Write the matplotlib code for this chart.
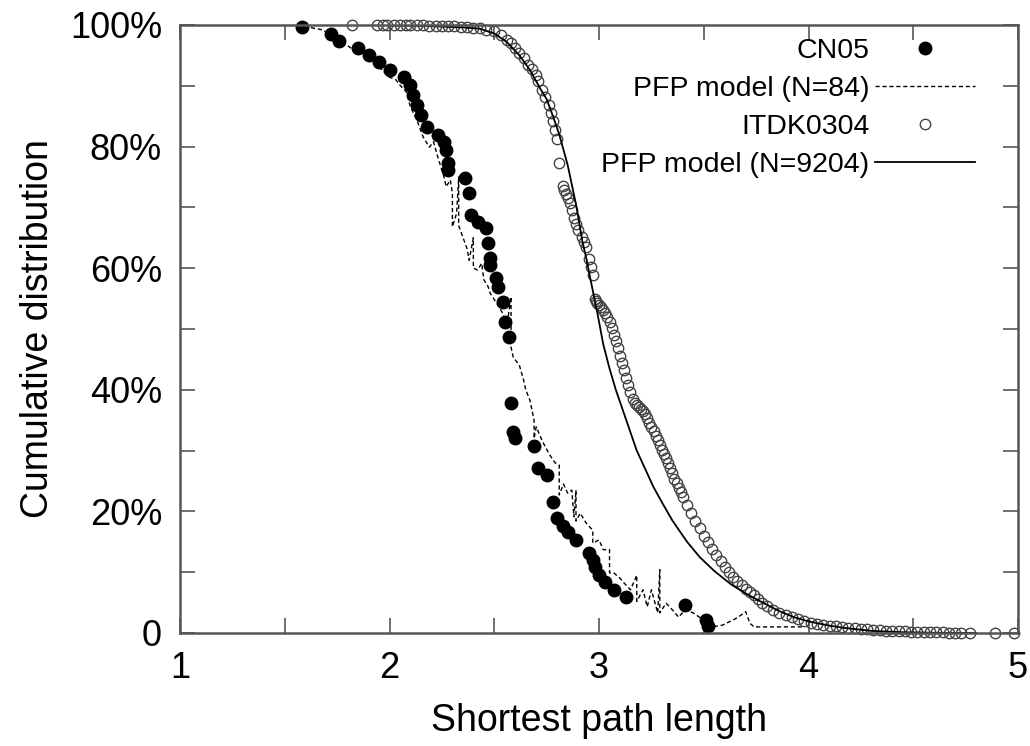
import matplotlib.pyplot as plt
from matplotlib.ticker import MultipleLocator, FuncFormatter

plt.rcParams['font.family'] = ['Liberation Sans', 'DejaVu Sans']

# CN05 measured distribution (filled dots)
cn05_x = [1.58, 1.72, 1.76, 1.85, 1.90, 1.95, 2.00, 2.07, 2.10, 2.11, 2.13, 2.15, 2.18, 2.23,
          2.26, 2.27, 2.28, 2.28, 2.36, 2.38, 2.39, 2.42, 2.46, 2.47, 2.48, 2.48, 2.51, 2.52,
          2.54, 2.55, 2.57, 2.58, 2.59, 2.60, 2.69, 2.71, 2.75, 2.78, 2.80, 2.83, 2.85, 2.89,
          2.95, 2.97, 2.98, 3.00, 3.03, 3.07, 3.13, 3.41, 3.51, 3.52]
cn05_y = [99.7, 98.6, 97.4, 96.2, 95.1, 93.9, 92.6, 91.4, 90.1, 88.5, 86.8, 85.2, 83.2, 81.9,
          80.8, 79.4, 77.3, 76.2, 74.8, 72.4, 68.8, 67.6, 66.6, 64.1, 61.7, 60.5, 58.4, 56.9,
          54.4, 51.2, 48.7, 37.8, 33.1, 32.1, 30.8, 27.2, 26.0, 21.6, 18.9, 17.6, 16.6, 15.3,
          13.1, 12.0, 10.9, 9.5, 8.4, 7.1, 6.0, 4.6, 2.1, 1.2]

# PFP model, N=84 (dashed)
pfp84_x = [1.56, 1.62, 1.68, 1.72, 1.76, 1.80, 1.84, 1.87, 1.91, 1.95, 2.00, 2.03, 2.05, 2.08,
           2.10, 2.13, 2.16, 2.19, 2.21, 2.23, 2.26, 2.27, 2.29, 2.30, 2.30, 2.32, 2.33, 2.33,
           2.35, 2.37, 2.38, 2.40, 2.40, 2.42, 2.44, 2.45, 2.47, 2.48, 2.51, 2.54, 2.56, 2.58,
           2.58, 2.59, 2.62, 2.64, 2.65, 2.67, 2.69, 2.69, 2.70, 2.73, 2.75, 2.77, 2.79, 2.81,
           2.81, 2.83, 2.85, 2.87, 2.88, 2.89, 2.89, 2.91, 2.94, 2.97, 2.97, 3.00, 3.02, 3.05,
           3.05, 3.07, 3.10, 3.12, 3.15, 3.18, 3.18, 3.21, 3.23, 3.25, 3.28, 3.29, 3.29, 3.32,
           3.35, 3.38, 3.41, 3.45, 3.50, 3.54, 3.59, 3.66, 3.70, 3.72, 3.74, 3.98]
pfp84_y = [100.0, 99.6, 99.2, 98.3, 97.5, 96.6, 95.6, 96.0, 93.9, 93.1, 91.4, 91.0, 90.1, 89.0,
           86.5, 84.4, 81.6, 79.9, 80.8, 78.3, 75.0, 73.4, 74.5, 72.4, 66.8, 69.0, 75.0, 67.0,
           65.1, 63.2, 61.3, 65.0, 60.0, 59.7, 60.8, 58.1, 57.0, 55.9, 54.3, 52.6, 50.5, 55.3,
           47.0, 45.4, 44.0, 41.6, 40.0, 38.3, 35.0, 32.0, 33.9, 31.5, 30.2, 29.0, 28.0, 27.6,
           22.7, 24.5, 23.0, 23.5, 19.1, 23.5, 18.4, 19.7, 18.0, 16.9, 14.8, 15.3, 13.7, 13.7,
           9.9, 9.9, 9.0, 8.2, 7.1, 9.5, 5.2, 7.1, 4.3, 7.1, 3.3, 10.4, 3.3, 4.9,
           3.8, 2.6, 3.8, 3.3, 2.1, 1.0, 1.3, 2.5, 3.5, 1.6, 1.0, 1.0]

# ITDK0304 measured distribution (open circles)
itdk_x = [1.82, 1.94, 1.97, 1.99, 2.02, 2.05, 2.08, 2.10, 2.13, 2.16, 2.19, 2.22, 2.25, 2.28,
          2.31, 2.34, 2.37, 2.40, 2.43, 2.46, 2.50, 2.53, 2.56, 2.58, 2.60, 2.62, 2.64, 2.66,
          2.68, 2.70, 2.71, 2.73, 2.74, 2.76, 2.77, 2.78, 2.79, 2.80, 2.81, 2.83, 2.835, 2.84,
          2.85, 2.86, 2.87, 2.88, 2.89, 2.90, 2.92, 2.93, 2.94, 2.95, 2.96, 2.97, 2.98, 2.985,
          2.99, 3.00, 3.01, 3.02, 3.03, 3.04, 3.05, 3.06, 3.07, 3.08, 3.09, 3.10, 3.11, 3.12,
          3.13, 3.14, 3.15, 3.16, 3.17, 3.18, 3.19, 3.20, 3.21, 3.22, 3.23, 3.24, 3.25, 3.26,
          3.27, 3.28, 3.29, 3.30, 3.31, 3.32, 3.33, 3.34, 3.35, 3.36, 3.37, 3.38, 3.39, 3.40,
          3.42, 3.44, 3.46, 3.48, 3.50, 3.52, 3.54, 3.56, 3.58, 3.60, 3.62, 3.64, 3.66, 3.68,
          3.70, 3.72, 3.74, 3.76, 3.78, 3.80, 3.83, 3.86, 3.89, 3.92, 3.95, 3.98, 4.01, 4.04,
          4.07, 4.10, 4.13, 4.16, 4.19, 4.22, 4.25, 4.28, 4.31, 4.34, 4.37, 4.40, 4.43, 4.46,
          4.49, 4.52, 4.55, 4.58, 4.61, 4.64, 4.67, 4.70, 4.73, 4.77, 4.89, 4.98]
itdk_y = [99.99, 99.99, 99.98, 99.98, 99.97, 99.96, 99.95, 99.94, 99.93, 99.92, 99.90, 99.88,
          99.85, 99.82, 99.78, 99.73, 99.66, 99.58, 99.45, 99.25, 99.0, 98.3, 97.6, 97.0, 96.2,
          95.4, 94.5, 93.5, 92.8, 91.8, 90.8, 89.3, 88.2, 86.8, 85.5, 84.2, 82.8, 81.2, 77.3,
          73.5, 72.8, 72.2, 71.5, 70.8, 69.5, 68.3, 67.2, 66.2, 65.2, 64.3, 63.5, 61.5, 60.2,
          58.9, 55.0, 54.6, 54.3, 54.0, 53.6, 53.2, 52.6, 52.0, 51.2, 50.2, 49.0, 48.0, 46.8,
          45.6, 44.4, 43.2, 42.0, 40.8, 39.7, 38.5, 37.8, 37.5, 37.2, 36.9, 36.5, 36.0, 35.3,
          34.6, 33.9, 33.2, 32.4, 31.7, 30.9, 30.1, 29.4, 28.7, 27.9, 27.1, 26.3, 25.4, 24.7,
          23.9, 23.2, 22.4, 21.0, 19.7, 18.4, 17.2, 16.0, 14.9, 13.8, 12.8, 11.8, 10.9, 10.0,
          9.2, 8.5, 7.9, 7.3, 6.8, 6.3, 5.6, 5.0, 4.4, 3.8, 3.3, 2.9, 2.6, 2.3, 2.0, 1.7, 1.5,
          1.3, 1.2, 1.1, 1.0, 0.9, 0.8, 0.7, 0.6, 0.55, 0.5, 0.4, 0.35, 0.3, 0.25, 0.2, 0.18,
          0.15, 0.12, 0.1, 0.08, 0.06, 0.05, 0.04, 0.03, 0.01, 0.0]

# PFP model, N=9204 (solid)
pfp9204_x = [2.00, 2.20, 2.35, 2.43, 2.50, 2.56, 2.62, 2.67, 2.72, 2.75, 2.78, 2.81, 2.85, 2.89,
             2.92, 2.94, 2.96, 2.99, 3.02, 3.05, 3.08, 3.13, 3.18, 3.22, 3.26, 3.30, 3.35, 3.42,
             3.48, 3.55, 3.63, 3.70, 3.77, 3.86, 3.93, 4.00, 4.10, 4.18, 4.30, 4.45, 4.60, 4.80]
pfp9204_y = [99.95, 99.8, 99.6, 99.4, 98.6, 97.2, 95.0, 92.6, 89.5, 87.8, 85.0, 82.0, 77.0, 70.5,
             64.5, 61.5, 58.0, 53.0, 47.5, 43.5, 40.0, 35.0, 30.0, 27.0, 24.0, 21.5, 18.5, 15.0,
             12.5, 10.2, 8.0, 6.5, 5.2, 3.6, 2.6, 1.9, 1.2, 0.8, 0.35, 0.12, 0.03, 0.0]

fig = plt.figure(figsize=(10.3, 7.46), dpi=100)
ax = fig.add_axes([0.1748, 0.1515, 0.8136, 0.815])

ax.plot(cn05_x, cn05_y, 'o', color='black', markersize=9, clip_on=False, label='CN05')
ax.plot(pfp84_x, pfp84_y, color='black', lw=1.0, dashes=(3, 2),
        label='PFP model (N=84)')
ax.plot(itdk_x, itdk_y, 'o', mfc='none', mec='#444444', mew=1.0, markersize=7.5,
        clip_on=False, label='ITDK0304')
ax.plot(pfp9204_x, pfp9204_y, color='black', lw=1.3, label='PFP model (N=9204)')

ax.set_xlim(1, 5)
ax.set_ylim(0, 100)

ax.xaxis.set_major_locator(MultipleLocator(1))
ax.xaxis.set_minor_locator(MultipleLocator(0.5))
ax.yaxis.set_major_locator(MultipleLocator(20))
ax.yaxis.set_minor_locator(MultipleLocator(10))
ax.yaxis.set_major_formatter(FuncFormatter(lambda v, p: '0' if v == 0 else '%d%%' % v))

ax.tick_params(which='both', direction='in', top=True, right=True, length=11,
               width=1.2, color='#555555', labelsize=26, pad=13)
for s in ax.spines.values():
    s.set_color('#555555')
    s.set_linewidth(1.8)

ax.set_xlabel('Shortest path length', fontsize=27, labelpad=12)
ax.set_ylabel('Cumulative distribution', fontsize=27, labelpad=10)

ax.legend(loc='upper right', bbox_to_anchor=(0.972, 1.012), markerfirst=False, frameon=False,
          fontsize=20.5, handlelength=3.5, handletextpad=0.2, labelspacing=0.42,
          borderaxespad=0.3)

fig.savefig('out.png')
